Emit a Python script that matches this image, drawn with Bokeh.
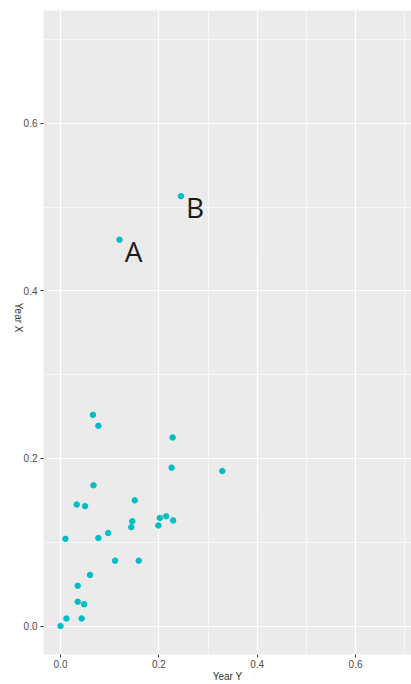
import math
from bokeh.plotting import figure
from bokeh.models import FixedTicker, PrintfTickFormatter, Range1d, ColumnDataSource
from bokeh.core.properties import value
from bokeh.embed import file_html
from bokeh.resources import INLINE

# Data
year_y = [0.066, 0.077, 0.228, 0.226, 0.329, 0.067, 0.033, 0.050, 0.151, 0.146,
          0.144, 0.202, 0.215, 0.229, 0.199, 0.097, 0.077, 0.010, 0.111, 0.159,
          0.060, 0.035, 0.035, 0.048, 0.012, 0.043, 0.000]
year_x = [0.252, 0.239, 0.225, 0.189, 0.185, 0.168, 0.145, 0.143, 0.150, 0.125,
          0.118, 0.129, 0.131, 0.126, 0.120, 0.111, 0.105, 0.104, 0.078, 0.078,
          0.061, 0.048, 0.029, 0.026, 0.009, 0.009, 0.000]
label_text = ["A", "B"]
label_year_y = [0.120, 0.245]
label_year_x = [0.461, 0.513]

major_ticks = [0.0, 0.2, 0.4, 0.6]
x_minor_ticks = [0.3, 0.5, 0.7]
y_minor_ticks = [0.1, 0.3, 0.5, 0.7]

TEAL = "#00BFC4"

p = figure(width=411, height=684, output_backend="svg", toolbar_location=None,
           x_range=Range1d(-0.0346, 0.7138), y_range=Range1d(-0.034, 0.7346),
           min_border_left=43, min_border_top=10, min_border_right=0, min_border_bottom=27)

p.background_fill_color = "#EBEBEB"
p.border_fill_color = "white"
p.outline_line_color = None

p.xaxis.ticker = FixedTicker(ticks=major_ticks, minor_ticks=x_minor_ticks)
p.yaxis.ticker = FixedTicker(ticks=major_ticks, minor_ticks=y_minor_ticks)
p.xaxis.formatter = PrintfTickFormatter(format="%.1f")
p.yaxis.formatter = PrintfTickFormatter(format="%.1f")

for ax in (p.xaxis[0], p.yaxis[0]):
    ax.axis_line_color = None
    ax.major_tick_in = 0
    ax.major_tick_out = 3
    ax.major_tick_line_color = "#333333"
    ax.minor_tick_line_color = None
    ax.major_label_text_font = "Liberation Sans"
    ax.major_label_text_font_size = "10px"
    ax.major_label_text_color = "#4D4D4D"
    ax.major_label_standoff = 1
    ax.axis_label_text_font = "Liberation Sans"
    ax.axis_label_text_font_size = "10px"
    ax.axis_label_text_font_style = "normal"
    ax.axis_label_text_color = "#333333"
    ax.axis_label_standoff = 0

p.yaxis[0].major_label_standoff = 2
p.yaxis[0].axis_label_standoff = 2

p.xaxis.axis_label = "Year Y"
p.yaxis.axis_label = "Year X"
yax = p.yaxis[0]
if "axis_label_orientation" in yax.properties():
    yax.axis_label_orientation = -math.pi / 2

p.xgrid.grid_line_color = "white"
p.ygrid.grid_line_color = "white"
p.xgrid.grid_line_width = 1.2
p.ygrid.grid_line_width = 1.2
p.xgrid.minor_grid_line_color = "white"
p.ygrid.minor_grid_line_color = "white"
p.xgrid.minor_grid_line_width = 0.6
p.ygrid.minor_grid_line_width = 0.6

src = ColumnDataSource(dict(x=year_y, y=year_x))
p.scatter("x", "y", source=src, size=5.5, fill_color=TEAL, line_color=TEAL)

lab = ColumnDataSource(dict(x=label_year_y, y=label_year_x, t=label_text))
p.scatter("x", "y", source=lab, size=5.5, fill_color=TEAL, line_color=TEAL)
p.text("x", "y", text="t", source=lab, x_offset=14, y_offset=11,
       text_align="center", text_baseline="middle",
       text_font=value("Open Sans"), text_font_size="28px", text_color="#1A1A1A")

open("out.html", "w").write(file_html(p, INLINE))
